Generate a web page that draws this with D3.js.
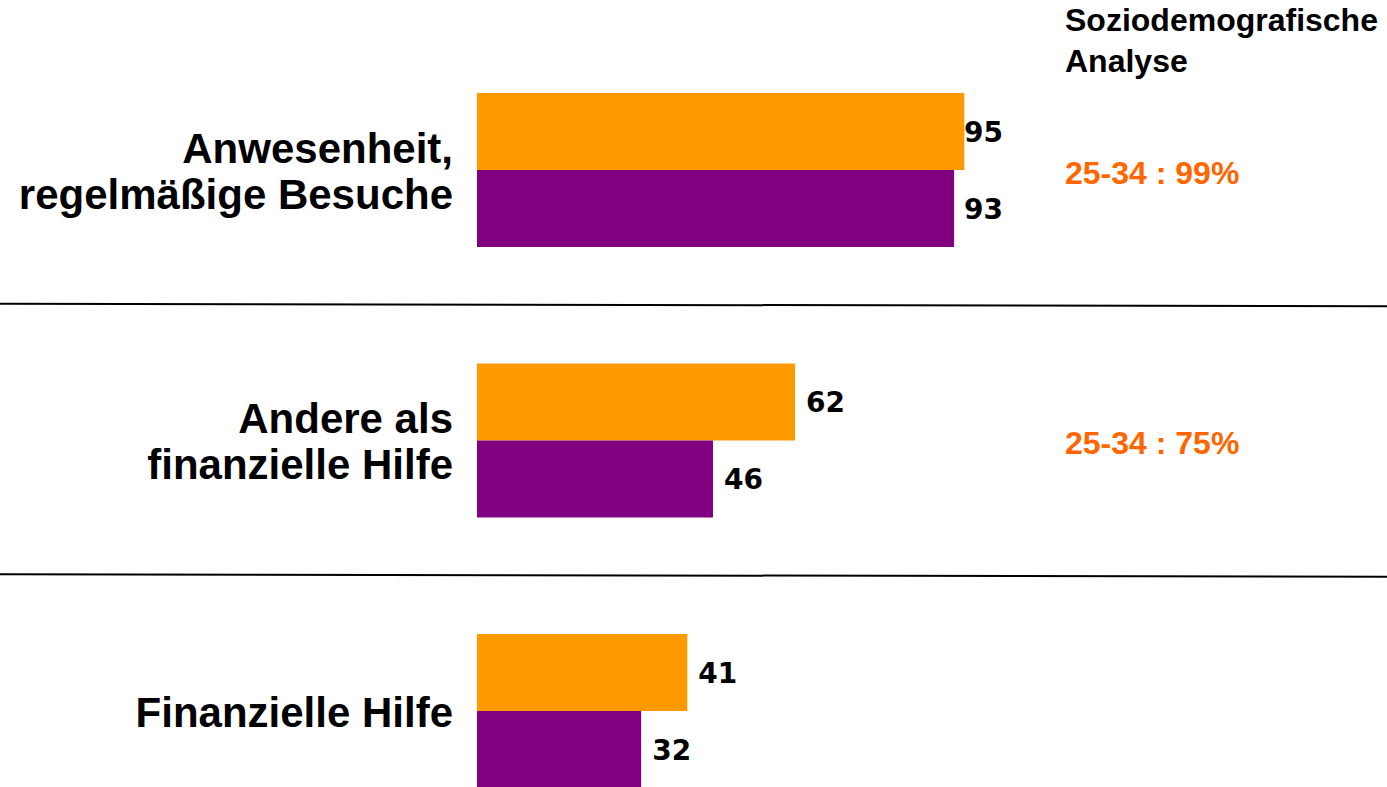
<!DOCTYPE html>
<html>
<head>
<meta charset="utf-8">
<script src="https://cdn.jsdelivr.net/npm/d3@7"></script>
<style>
  body { margin: 0; background: #fff; }
</style>
</head>
<body>
<div class="chart"></div>
<script>
// data
const categories = [["Anwesenheit,", "regelmäßige Besuche"], ["Andere als", "finanzielle Hilfe"], ["Finanzielle Hilfe"]];
const series = ["a", "b"];
const valuesA = [95, 62, 41];
const valuesB = [93, 46, 32];
const notes = ["25-34 : 99%", "25-34 : 75%", ""];
const headerLines = ["Soziodemografische", "Analyse"];

const width = 1387;
const height = 787;
const colors = {a: "#FF9900", b: "#800080"};

const svg = d3.select(".chart").append("svg")
    .attr("width", width)
    .attr("height", height)
    .attr("viewBox", [0, 0, width, height]);

const keys = categories.map((c, i) => i);

// scales
const x = d3.scaleLinear().domain([0, 100]).range([477, 990]);
const y = d3.scaleBand().domain(keys).range([-23.5, 904.5]).padding(0.4307);
const ySub = d3.scaleBand().domain(series).range([0, y.bandwidth()]);

const rows = keys.map(i => ({i, a: valuesA[i], b: valuesB[i]}));

// separator lines (slightly tilted like the original slide)
const step = y.step();
keys.slice(1).forEach(i => {
    const yy = y(i) - step * y.paddingInner() / 2;
    svg.append("line")
        .attr("x1", 0).attr("x2", width)
        .attr("y1", yy - 1.5).attr("y2", yy + 1)
        .attr("stroke", "#000")
        .attr("stroke-width", 2);
});

// bars
const groups = svg.selectAll("g.group")
    .data(rows)
    .join("g")
    .attr("class", "group")
    .attr("transform", d => `translate(0,${y(d.i)})`);

groups.selectAll("rect")
    .data(d => series.map(k => ({k, v: d[k]})))
    .join("rect")
    .attr("x", x(0))
    .attr("y", d => ySub(d.k))
    .attr("width", d => x(d.v) - x(0))
    .attr("height", ySub.bandwidth())
    .attr("fill", d => colors[d.k]);

// value labels
groups.selectAll("text.val")
    .data(d => series.map(k => ({k, v: d[k]})))
    .join("text")
    .attr("class", "val")
    .attr("x", d => Math.min(x(d.v) + 11, 964))
    .attr("y", d => ySub(d.k) + ySub.bandwidth() / 2)
    .attr("dy", "0.36em")
    .attr("font-family", "DejaVu Sans")
    .attr("font-weight", "bold")
    .attr("font-size", 28)
    .attr("fill", "#000")
    .text(d => d.v);

// category labels
groups.each(function(d) {
    const lines = categories[d.i];
    const t = d3.select(this).append("text")
        .attr("text-anchor", "end")
        .attr("font-family", "Liberation Sans, Arial, sans-serif")
        .attr("font-weight", "bold")
        .attr("font-size", 42)
        .attr("fill", "#000");
    const lh = 46;
    const y0 = y.bandwidth() / 2 - (lines.length - 1) * lh / 2;
    lines.forEach((l, j) => {
        t.append("tspan")
            .attr("x", 453)
            .attr("y", y0 + j * lh)
            .attr("dy", "0.37em")
            .text(l);
    });
});

// notes
groups.append("text")
    .attr("x", 1065)
    .attr("y", y.bandwidth() / 2 + 2)
    .attr("dy", "0.36em")
    .attr("font-family", "Liberation Sans, Arial, sans-serif")
    .attr("font-weight", "bold")
    .attr("font-size", 32)
    .attr("fill", "#FF6600")
    .text(d => notes[d.i]);

// header
svg.append("text")
    .attr("font-family", "Liberation Sans, Arial, sans-serif")
    .attr("font-weight", "bold")
    .attr("font-size", 32)
    .attr("fill", "#000")
    .selectAll("tspan")
    .data(headerLines)
    .join("tspan")
    .attr("x", 1065)
    .attr("y", (d, j) => 31 + j * 41)
    .text(d => d);
</script>
</body>
</html>
